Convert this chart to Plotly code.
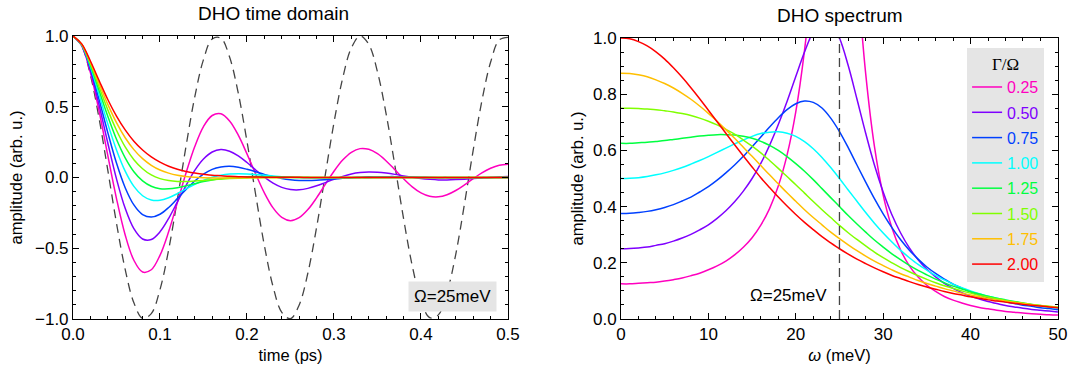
import plotly.graph_objects as go

# ---------------- data ----------------
time_ps = [0.00, 0.01, 0.02, 0.03, 0.04, 0.05, 0.06, 0.07, 0.08, 0.09, 0.10,
           0.11, 0.12, 0.13, 0.14, 0.15, 0.16, 0.17, 0.18, 0.19, 0.20,
           0.21, 0.22, 0.23, 0.24, 0.25, 0.26, 0.27, 0.28, 0.29, 0.30,
           0.31, 0.32, 0.33, 0.34, 0.35, 0.36, 0.37, 0.38, 0.39, 0.40,
           0.41, 0.42, 0.43, 0.44, 0.45, 0.46, 0.47, 0.48, 0.49, 0.50]

undamped = [1.000, .929, .725, .417, .052, -.323, -.650, -.886, -.995, -.962, -.792,
            -.510, -.154, .223, .570, .833, .979, .985, .851, .596, .255,
            -.122, -.481, -.772, -.953, -.998, -.901, -.675, -.353, .019, .388,
            .702, .916, 1.000, .941, .747, .448, .085, -.291, -.625, -.870,
            -.991, -.971, -.812, -.543, -.187, .192, .541, .814, .972, .990]

td_025 = [1.000, .931, .742, .469, .156, -.149, -.406, -.585, -.668, -.652, -.550,
          -.382, -.177, .033, .219, .360, .438, .450, .399, .299, .167,
          .025, -.109, -.215, -.282, -.305, -.284, -.227, -.144, -.049, .044,
          .123, .178, .204, .199, .168, .117, .055, -.009, -.066, -.109,
          -.133, -.137, -.122, -.092, -.052, -.008, .033, .065, .086, .093]
td_050 = [1.000, .933, .757, .512, .244, -.010, -.218, -.362, -.435, -.438, -.384,
          -.289, -.173, -.055, .050, .130, .180, .197, .186, .153, .106,
          .053, .002, -.040, -.070, -.085, -.087, -.077, -.059, -.036, -.013,
          .008, .025, .035, .039, .037, .031, .022, .011, .001, -.007,
          -.013, -.017, -.017, -.015, -.012, -.008, -.003, .001, .005, .007]
td_075 = [1.000, .935, .770, .551, .317, .102, -.072, -.194, -.262, -.280, -.260,
          -.212, -.149, -.084, -.025, .023, .057, .074, .079, .072, .058,
          .041, .022, .006, -.007, -.016, -.021, -.022, -.020, -.016, -.011,
          -.006, -.001, .002, .005, .006, .006, .006, .004, .003, .002,
          .000, -.001, -.001, -.002, -.002, -.002, -.001, -.001, .000, .000]
td_100 = [1.000, .937, .783, .584, .379, .195, .045, -.063, -.129, -.159, -.161,
          -.143, -.114, -.080, -.048, -.020, .002, .016, .024, .027, .025,
          .021, .016, .011, .006, .002, -.001, -.003, -.004, -.004, -.004,
          -.003, -.002, -.001, -.001, .000, .000, .000, .000, .000, .000,
          .000, .000, .000, .000, .000, .000, .000, .000, .000, .000]
td_125 = [1.000, .939, .794, .614, .432, .270, .139, .041, -.024, -.062, -.079,
          -.080, -.072, -.059, -.044, -.029, -.017, -.008, -.001, .003, .006,
          .007, .006, .005, .004, .003, .002, .001, .000, .000, .000,
          .000, .000, .000, .000, .000, .000, .000, .000, .000, .000,
          .000, .000, .000, .000, .000, .000, .000, .000, .000, .000]
td_150 = [1.000, .941, .805, .640, .478, .334, .216, .126, .062, .018, -.008,
          -.022, -.028, -.028, -.025, -.021, -.016, -.012, -.008, -.005, -.003,
          -.001, .000, .000, .000, .000, .000, .000, .000, .000, .000,
          .000, .000, .000, .000, .000, .000, .000, .000, .000, .000,
          .000, .000, .000, .000, .000, .000, .000, .000, .000, .000]
td_175 = [1.000, .942, .814, .664, .517, .388, .281, .197, .133, .086, .053,
          .031, .016, .007, .001, -.002, -.003, -.003, -.003, -.003, -.002,
          -.002, -.001, -.001, -.001, .000, .000, .000, .000, .000, .000,
          .000, .000, .000, .000, .000, .000, .000, .000, .000, .000,
          .000, .000, .000, .000, .000, .000, .000, .000, .000, .000]
td_200 = [1.000, .944, .823, .685, .551, .434, .336, .256, .194, .145, .108,
          .079, .058, .043, .031, .023, .016, .012, .008, .006, .004,
          .003, .002, .002, .001, .001, .001, .000, .000, .000, .000,
          .000, .000, .000, .000, .000, .000, .000, .000, .000, .000,
          .000, .000, .000, .000, .000, .000, .000, .000, .000, .000]

energy_meV = [0, 1, 2, 3, 4, 5, 6, 7, 8, 9, 10, 11, 12, 13, 14, 15, 16, 17, 18, 19, 20,
              21, 22, 23, 24, 25, 26, 27, 28, 29, 30, 31, 32, 33, 34, 35, 36, 37, 38, 39, 40,
              41, 42, 43, 44, 45, 46, 47, 48, 49, 50]

sp_025 = [.125, .125, .127, .129, .131, .135, .140, .146, .154, .163, .175,
          .189, .206, .228, .255, .289, .334, .393, .473, .583, .737,
          .956, 1.259, 1.634, 1.961, 2.000, 1.683, 1.243, .873, .614, .441,
          .325, .245, .189, .149, .120, .098, .080, .067, .057, .048,
          .041, .036, .031, .027, .024, .021, .019, .017, .015, .014]
sp_050 = [.250, .251, .253, .256, .262, .268, .277, .288, .301, .317, .335,
          .358, .385, .417, .455, .500, .554, .618, .692, .774, .863,
          .950, 1.023, 1.063, 1.057, 1.000, .902, .783, .661, .548, .452,
          .371, .306, .253, .211, .177, .150, .127, .109, .094, .081,
          .071, .062, .055, .048, .043, .038, .034, .031, .028, .025]
sp_075 = [.375, .376, .379, .383, .389, .397, .407, .420, .434, .452, .471,
          .494, .520, .548, .579, .613, .648, .683, .716, .745, .766,
          .776, .771, .751, .715, .667, .610, .548, .487, .428, .374,
          .325, .282, .245, .213, .185, .162, .142, .124, .110, .097,
          .086, .076, .068, .061, .055, .049, .045, .040, .037, .033]
sp_100 = [.500, .501, .503, .507, .513, .520, .529, .539, .551, .564, .578,
          .593, .608, .623, .637, .650, .660, .665, .666, .661, .650,
          .631, .606, .575, .539, .500, .459, .419, .379, .341, .306,
          .274, .244, .218, .194, .174, .155, .139, .124, .111, .100,
          .090, .081, .074, .067, .061, .055, .050, .046, .042, .039]
sp_125 = [.625, .625, .627, .629, .632, .635, .639, .643, .647, .651, .654,
          .656, .656, .655, .650, .643, .632, .618, .600, .578, .553,
          .526, .496, .464, .432, .400, .368, .338, .309, .281, .256,
          .232, .211, .191, .173, .157, .142, .129, .117, .107, .097,
          .089, .081, .074, .068, .062, .057, .052, .048, .044, .041]
sp_150 = [.750, .750, .749, .747, .745, .741, .737, .731, .724, .715, .704,
          .691, .675, .658, .637, .615, .591, .564, .536, .507, .478,
          .448, .418, .389, .361, .333, .307, .283, .260, .238, .218,
          .200, .183, .168, .154, .141, .129, .118, .109, .100, .092,
          .084, .078, .072, .066, .061, .056, .052, .048, .045, .042]
sp_175 = [.875, .874, .869, .862, .851, .838, .822, .803, .782, .758, .732,
          .704, .674, .643, .611, .579, .546, .513, .481, .449, .419,
          .389, .361, .335, .309, .286, .264, .243, .224, .206, .190,
          .175, .161, .149, .137, .126, .117, .108, .100, .092, .085,
          .079, .073, .068, .063, .059, .055, .051, .047, .044, .041]
sp_200 = [1.000, .997, .987, .972, .951, .925, .894, .860, .823, .784, .743,
          .702, .661, .620, .580, .541, .503, .468, .434, .402, .372,
          .344, .318, .293, .271, .250, .231, .213, .197, .182, .168,
          .155, .144, .133, .123, .114, .106, .098, .091, .085, .079,
          .074, .068, .064, .060, .056, .052, .049, .046, .043, .040]

ratio_labels = ["0.25", "0.50", "0.75", "1.00", "1.25", "1.50", "1.75", "2.00"]
colors = ["#ff00bf", "#7f00ff", "#0040ff", "#00ffff",
          "#00ff40", "#80ff00", "#ffbf00", "#ff0000"]
time_series = [td_025, td_050, td_075, td_100, td_125, td_150, td_175, td_200]
spec_series = [sp_025, sp_050, sp_075, sp_100, sp_125, sp_150, sp_175, sp_200]
omega_line_x = [25, 25]
omega_line_y = [0, 1]

FONT = "Liberation Sans"

fig = go.Figure()

# dashed undamped oscillation
fig.add_trace(go.Scatter(x=time_ps, y=undamped, mode="lines",
                         line=dict(color="#444444", width=1.3, dash="9px,6px", shape="spline"),
                         showlegend=False, hoverinfo="skip", xaxis="x", yaxis="y"))
for lab, col, ys in zip(ratio_labels, colors, time_series):
    fig.add_trace(go.Scatter(x=time_ps, y=ys, mode="lines",
                             line=dict(color=col, width=1.5, shape="spline"),
                             showlegend=False, xaxis="x", yaxis="y"))

# spectrum
for lab, col, ys in zip(ratio_labels, colors, spec_series):
    fig.add_trace(go.Scatter(x=energy_meV, y=ys, mode="lines",
                             line=dict(color=col, width=1.5, shape="spline"),
                             name=f"<span style='color:{col}'>{lab}</span>",
                             legendgroup=lab,
                             xaxis="x2", yaxis="y2"))
fig.add_trace(go.Scatter(x=omega_line_x, y=omega_line_y, mode="lines",
                         line=dict(color="#444444", width=1.3, dash="9px,5px"),
                         showlegend=False, hoverinfo="skip", xaxis="x2", yaxis="y2"))

axis_common = dict(showgrid=False, zeroline=False, showline=True, linecolor="black",
                   linewidth=1, mirror="allticks", ticks="inside", ticklen=6,
                   tickwidth=1, tickcolor="black", automargin=False,
                   tickfont=dict(family=FONT, size=17, color="black"))
TITLE_FONT = dict(family=FONT, size=16.5, color="black")

fig.update_layout(
    width=1091, height=368,
    margin=dict(l=0, r=0, t=0, b=0, autoexpand=False),
    paper_bgcolor="white", plot_bgcolor="white",
    font=dict(family=FONT, size=14, color="black"),
    xaxis=dict(domain=[0.0669, 0.4656], range=[0, 0.5], tick0=0, dtick=0.1,
               tickformat=".1f", anchor="y",
               minor=dict(ticks="inside", ticklen=3, dtick=0.02, tickcolor="black", showgrid=False),
               title=dict(text="time (ps)", font=TITLE_FONT, standoff=6),
               **axis_common),
    yaxis=dict(domain=[0.1332, 0.9022], range=[-1, 1], tick0=0, dtick=0.5,
               tickformat=".1f", anchor="x",
               minor=dict(ticks="inside", ticklen=3, dtick=0.1, tickcolor="black", showgrid=False),
               title=dict(text="amplitude (arb. u.)", font=TITLE_FONT, standoff=8),
               **axis_common),
    xaxis2=dict(domain=[0.5692, 0.9697], range=[0, 50], tick0=0, dtick=10,
                anchor="y2",
                minor=dict(ticks="inside", ticklen=3, dtick=2, tickcolor="black", showgrid=False),
                title=dict(text="<i>ω</i> (meV)", font=TITLE_FONT, standoff=6),
                **axis_common),
    yaxis2=dict(domain=[0.1332, 0.8967], range=[0, 1], tick0=0, dtick=0.2,
                tickformat=".1f", anchor="x2",
                minor=dict(ticks="inside", ticklen=3, dtick=0.05, tickcolor="black", showgrid=False),
                title=dict(text="amplitude (arb. u.)", font=TITLE_FONT, standoff=5),
                **axis_common),
    legend=dict(x=0.957, xanchor="right", y=0.8696, yanchor="top",
                bgcolor="#e5e5e5", borderwidth=0,
                font=dict(family=FONT, size=16),
                title=dict(text="Γ/Ω", font=dict(family="Liberation Serif", size=17, color="black"),
                           side="top center"),
                itemwidth=30, tracegroupgap=1.5),
    annotations=[
        dict(text="DHO time domain", x=0.2511, y=0.962, xref="paper", yref="paper",
             showarrow=False, font=dict(family=FONT, size=19), xanchor="center", yanchor="middle"),
        dict(text="DHO spectrum", x=0.7695, y=0.958, xref="paper", yref="paper",
             showarrow=False, font=dict(family=FONT, size=19), xanchor="center", yanchor="middle"),
        dict(text="Ω=25meV", x=0.4143, y=0.193, xref="paper", yref="paper",
             showarrow=False, font=dict(family=FONT, size=17), bgcolor="#e5e5e5",
             borderpad=5, xanchor="center", yanchor="middle"),
        dict(text="Ω=25meV", x=23.8, y=0.085, xref="x2", yref="y2",
             showarrow=False, font=dict(family=FONT, size=17),
             xanchor="right", yanchor="middle"),
    ],
)

fig.write_html("out.html")
